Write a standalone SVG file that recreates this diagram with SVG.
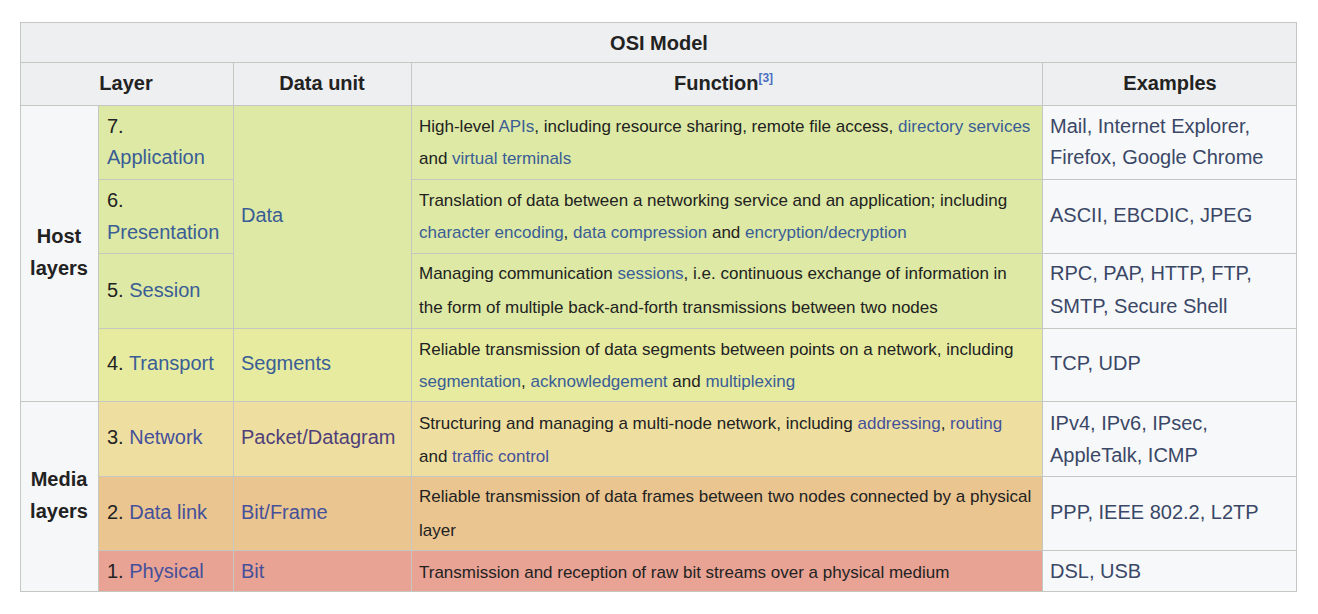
<svg xmlns="http://www.w3.org/2000/svg" width="1318" height="614" viewBox="0 0 1318 614">
<style>
text{font-family:"Liberation Sans",Arial,Helvetica,sans-serif;fill:#222}
.t{font-size:20px}
.f{font-size:17px}
.b{font-weight:bold}
.c{text-anchor:middle}
.lk{fill:#3a5d96}
.lm{fill:#45509a}
.vis{fill:#503f78}
.ex{fill:#3a4766}
.sup{font-size:12px;fill:#4a6fc0}
.grid line{stroke:#c4c7c2;stroke-width:1}
</style>
<rect x="0" y="0" width="1318" height="614" fill="#ffffff"/>

<g id="backgrounds">
<rect x="20" y="22" width="1277" height="40" fill="#eeeff1"/>
<rect x="20" y="62" width="1277" height="43" fill="#eeeff1"/>
<rect x="20" y="105" width="78" height="487" fill="#f6f7f8"/>
<rect x="98" y="105" width="944" height="223" fill="#dde9a4"/>
<rect x="98" y="328" width="944" height="73" fill="#e6eba0"/>
<rect x="98" y="401" width="944" height="75" fill="#eedfa0"/>
<rect x="98" y="476" width="944" height="74" fill="#eac590"/>
<rect x="98" y="550" width="944" height="42" fill="#e8a394"/>
<rect x="1042" y="105" width="255" height="487" fill="#f7f8f9"/>
</g>

<g id="grid" class="grid">
<rect x="20.5" y="22.5" width="1276" height="569" fill="none" stroke="#c4c7c2" stroke-width="1"/>
<line x1="20" y1="62.5" x2="1297" y2="62.5"/>
<line x1="20" y1="105.5" x2="1297" y2="105.5"/>
<line x1="98" y1="179.5" x2="233" y2="179.5"/>
<line x1="411" y1="179.5" x2="1297" y2="179.5"/>
<line x1="98" y1="253.5" x2="233" y2="253.5"/>
<line x1="411" y1="253.5" x2="1297" y2="253.5"/>
<line x1="98" y1="328.5" x2="1297" y2="328.5"/>
<line x1="20" y1="401.5" x2="1297" y2="401.5"/>
<line x1="98" y1="476.5" x2="1297" y2="476.5"/>
<line x1="98" y1="550.5" x2="1297" y2="550.5"/>
<line x1="98.5" y1="105" x2="98.5" y2="592"/>
<line x1="233.5" y1="62" x2="233.5" y2="592"/>
<line x1="411.5" y1="62" x2="411.5" y2="592"/>
<line x1="1042.5" y1="62" x2="1042.5" y2="592"/>
</g>

<g id="title"><text class="t b c" x="659" y="50">OSI Model</text></g>

<g id="header">
<text class="t b c" x="126" y="90">Layer</text>
<text class="t b c" x="322" y="90">Data unit</text>
<text class="t b" x="674" y="90">Function<tspan class="sup" dy="-8">[3]</tspan></text>
<text class="t b c" x="1170" y="90">Examples</text>
</g>

<g id="host-layers">
<text class="t b c" x="59" y="243">Host</text>
<text class="t b c" x="59" y="275">layers</text>
</g>
<g id="media-layers">
<text class="t b c" x="59" y="486">Media</text>
<text class="t b c" x="59" y="518">layers</text>
</g>

<g id="data-unit-data"><text class="t lk" x="241" y="222">Data</text></g>

<g id="layer7">
<text class="t" x="107" y="133">7.</text>
<text class="t lk" x="107" y="164">Application</text>
<text class="f" x="419" y="132">High-level <tspan class="lk">APIs</tspan>, including resource sharing, remote file access, <tspan class="lk">directory services</tspan></text>
<text class="f" x="419" y="164">and <tspan class="lk">virtual terminals</tspan></text>
<text class="t ex" x="1050" y="133">Mail, Internet Explorer,</text>
<text class="t ex" x="1050" y="164">Firefox, Google Chrome</text>
</g>

<g id="layer6">
<text class="t" x="107" y="207">6.</text>
<text class="t lk" x="107" y="239">Presentation</text>
<text class="f" x="419" y="206">Translation of data between a networking service and an application; including</text>
<text class="f" x="419" y="238"><tspan class="lk">character encoding</tspan>, <tspan class="lk">data compression</tspan> and <tspan class="lk">encryption/decryption</tspan></text>
<text class="t ex" x="1050" y="222">ASCII, EBCDIC, JPEG</text>
</g>

<g id="layer5">
<text class="t" x="107" y="297">5. <tspan class="lk">Session</tspan></text>
<text class="f" x="419" y="279">Managing communication <tspan class="lk">sessions</tspan>, i.e. continuous exchange of information in</text>
<text class="f" x="419" y="313">the form of multiple back-and-forth transmissions between two nodes</text>
<text class="t ex" x="1050" y="280">RPC, PAP, HTTP, FTP,</text>
<text class="t ex" x="1050" y="313">SMTP, Secure Shell</text>
</g>

<g id="layer4">
<text class="t" x="107" y="370">4. <tspan class="lk">Transport</tspan></text>
<text class="t lk" x="241" y="370">Segments</text>
<text class="f" x="419" y="355">Reliable transmission of data segments between points on a network, including</text>
<text class="f" x="419" y="387"><tspan class="lk">segmentation</tspan>, <tspan class="lk">acknowledgement</tspan> and <tspan class="lk">multiplexing</tspan></text>
<text class="t ex" x="1050" y="370">TCP, UDP</text>
</g>

<g id="layer3">
<text class="t" x="107" y="444">3. <tspan class="lm">Network</tspan></text>
<text class="t vis" x="241" y="444">Packet/Datagram</text>
<text class="f" x="419" y="429">Structuring and managing a multi-node network, including <tspan class="lm">addressing</tspan>, <tspan class="lm">routing</tspan></text>
<text class="f" x="419" y="462">and <tspan class="lm">traffic control</tspan></text>
<text class="t ex" x="1050" y="430">IPv4, IPv6, IPsec,</text>
<text class="t ex" x="1050" y="462">AppleTalk, ICMP</text>
</g>

<g id="layer2">
<text class="t" x="107" y="519">2. <tspan class="lm">Data link</tspan></text>
<text class="t lm" x="241" y="519">Bit/Frame</text>
<text class="f" x="419" y="502">Reliable transmission of data frames between two nodes connected by a physical</text>
<text class="f" x="419" y="536">layer</text>
<text class="t ex" x="1050" y="519">PPP, IEEE 802.2, L2TP</text>
</g>

<g id="layer1">
<text class="t" x="107" y="578">1. <tspan class="lm">Physical</tspan></text>
<text class="t lm" x="241" y="578">Bit</text>
<text class="f" x="419" y="578">Transmission and reception of raw bit streams over a physical medium</text>
<text class="t ex" x="1050" y="578">DSL, USB</text>
</g>
</svg>
